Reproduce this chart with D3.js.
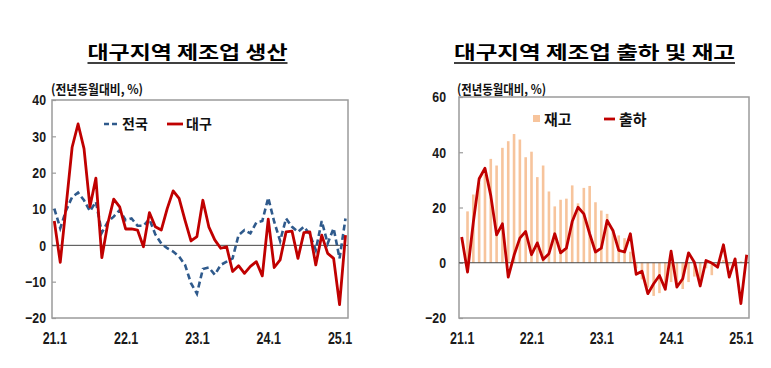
<!DOCTYPE html>
<html><head><meta charset="utf-8">
<script src="https://cdn.jsdelivr.net/npm/d3@7"></script>
<style>body{margin:0;background:#fff}svg{display:block}</style>
</head><body><svg id="c" width="771" height="368"></svg>
<script>
// ---- data ----
const months = ["21.1","21.2","21.3","21.4","21.5","21.6","21.7","21.8","21.9","21.10","21.11","21.12",
"22.1","22.2","22.3","22.4","22.5","22.6","22.7","22.8","22.9","22.10","22.11","22.12",
"23.1","23.2","23.3","23.4","23.5","23.6","23.7","23.8","23.9","23.10","23.11","23.12",
"24.1","24.2","24.3","24.4","24.5","24.6","24.7","24.8","24.9","24.10","24.11","24.12",
"25.1","25.2"];
const xTickLabels = ["21.1","22.1","23.1","24.1","25.1"];
const leftYTicks = [-20,-10,0,10,20,30,40];
const rightYTicks = [-20,0,20,40,60];

const nationalProd = [10.1,4.7,9.7,13.3,14.5,12.4,9.4,12,3.5,6.5,7.9,9.7,6.9,7.4,5.4,5.4,7.2,3,0.5,-0.8,-1.7,-3.1,-5.4,-10.4,-13.3,-6.5,-6.1,-8.1,-5.4,-4.5,-3.6,2.8,4.2,3.3,6.3,6.7,13.1,6.5,1.2,7.4,5.1,3.7,5.1,3,-1.3,6.7,0.5,4.7,-3.6,7.4];
const daeguProd = [6.7,-4.7,11,27,33.4,26.6,10.6,18.5,-3.4,6,12.7,10.6,4.5,4.5,4.2,-0.4,9,5.1,4.2,10.1,15,12.9,6.9,1.2,2.4,12.4,5.1,1.5,-0.8,-0.4,-7.2,-5.6,-7.7,-5.8,-4.5,-8.4,7.2,-6.1,-4,3.7,3.9,-3.6,3.5,3.7,-5.4,2.8,-2.2,-3.6,-16.3,2.8];
const shipment = [9.3,-3.4,14.7,30.4,34.2,24.3,10.1,14.1,-5.2,2.7,8.9,11.3,2.9,7.2,1.2,3.3,10.5,3.6,5.3,14.9,20.1,17.7,10.5,3.9,5.3,15.3,11.7,4.5,3.9,10.5,-4.2,-3.1,-11.2,-7.6,-4.6,-9.6,4.2,-8.8,-5.8,3.6,0.2,-8.4,0.8,-0.1,-1.6,6.5,-5.2,1.4,-14.8,2.9];
const inventory = [null,18.6,24.7,29,32,37.6,35.2,41.6,44.0,46.6,44.6,38.2,40.2,31.0,35.2,25.8,20.4,22.8,23.2,28,21.5,27.1,27.8,21.9,18.9,17.7,12,9.9,8.9,4,-2,-6,-9,-12,-11,-10,-7,-9,-9.5,-7,-5,-6,-2,-4.5,-2,1,-1,1.5,0.5,null];

const leftTitle = "대구지역 제조업 생산";
const rightTitle = "대구지역 제조업 출하 및 재고";
const unitLabel = "(전년동월대비, %)";
const legendLeft = ["전국","대구"];
const legendRight = ["재고","출하"];

// ---- styles ----
const KR = "'Noto Sans CJK KR','Noto Sans',sans-serif";
const NUM = "'Liberation Sans Narrow','Arial Narrow','Liberation Sans',Arial,sans-serif";
const RED = "#C00000", BLUE = "#2F5A8C", BAR = "#F7C49C", FRAME = "#9b9b9b";

const svg = d3.select("#c");

function narrow(sel, f){
  sel.each(function(){
    const w = this.getComputedTextLength();
    d3.select(this).attr("textLength", w*f).attr("lengthAdjust","spacingAndGlyphs");
  });
}

function panel(o){
  const g = svg.append("g");
  g.append("text").attr("x",o.titleX).attr("y",59).attr("text-anchor","middle")
    .attr("font-family",KR).attr("font-weight",700).attr("font-size",18)
    .attr("textLength",o.titleW).attr("lengthAdjust","spacingAndGlyphs").attr("fill","#000").text(o.title);
  g.append("line").attr("x1",o.titleX-o.titleW/2).attr("x2",o.titleX+o.titleW/2)
    .attr("y1",63).attr("y2",63).attr("stroke","#000").attr("stroke-width",1.6);
  g.append("text").attr("x",o.unitX).attr("y",94).attr("font-family",KR).attr("font-weight",700)
    .attr("font-size",13).attr("fill","#111").attr("textLength",o.unitW).attr("lengthAdjust","spacingAndGlyphs").text(unitLabel);
  return g;
}

// ================= LEFT =================
const L = {x0:52, x1:348, y0:100, y1:318};
const xL = d3.scalePoint().domain(months).range([54.3, 345.5]);
const yL = d3.scaleLinear().domain([-20,40]).range([L.y1, L.y0]);
const gl = panel({titleX:187.5,titleW:200,title:leftTitle,unitX:51,unitW:92});

gl.append("rect").attr("x",L.x0).attr("y",L.y0).attr("width",L.x1-L.x0).attr("height",L.y1-L.y0)
  .attr("fill","none").attr("stroke",FRAME).attr("stroke-width",1.5);
gl.append("g").attr("transform",`translate(${L.x0},0)`)
  .call(d3.axisRight(yL).tickValues(leftYTicks).tickSize(4).tickFormat(""))
  .call(a=>a.select(".domain").remove()).selectAll("line").attr("stroke",FRAME).attr("stroke-width",1.2);
gl.append("g").attr("transform",`translate(${L.x0},0)`)
  .call(d3.axisLeft(yL).tickValues(leftYTicks).tickSize(0).tickPadding(6))
  .call(a=>a.select(".domain").remove())
  .selectAll("text").attr("font-family",NUM).attr("font-weight",700).attr("font-size",15).attr("fill","#1a1a1a")
  .call(narrow,0.82);
gl.append("g").attr("transform",`translate(0,${L.y1})`)
  .call(d3.axisBottom(xL).tickValues(xTickLabels).tickSize(0).tickPadding(15))
  .call(a=>a.select(".domain").remove())
  .selectAll("text").attr("font-family",NUM).attr("font-weight",700).attr("font-size",16).attr("fill","#1a1a1a")
  .call(narrow,0.78);
gl.append("line").attr("x1",L.x0).attr("x2",L.x1).attr("y1",yL(0)).attr("y2",yL(0)).attr("stroke","#444").attr("stroke-width",1);
const lineL = d3.line().x((d,i)=>xL(months[i])).y(d=>yL(d));
gl.append("path").datum(nationalProd).attr("d",lineL).attr("fill","none").attr("stroke",BLUE)
  .attr("stroke-width",2.6).attr("stroke-dasharray","6,3.5");
gl.append("path").datum(daeguProd).attr("d",lineL).attr("fill","none").attr("stroke",RED)
  .attr("stroke-width",2.8).attr("stroke-linejoin","round");
gl.append("line").attr("x1",104).attr("x2",118).attr("y1",124).attr("y2",124).attr("stroke",BLUE).attr("stroke-width",2.6).attr("stroke-dasharray","5,3");
gl.append("text").attr("x",122).attr("y",129).attr("font-family",KR).attr("font-weight",700).attr("font-size",14).attr("fill","#111").text(legendLeft[0]);
gl.append("line").attr("x1",167).attr("x2",183).attr("y1",124).attr("y2",124).attr("stroke",RED).attr("stroke-width",2.8);
gl.append("text").attr("x",186).attr("y",129).attr("font-family",KR).attr("font-weight",700).attr("font-size",14).attr("fill","#111").text(legendLeft[1]);

// ================= RIGHT =================
const R = {x0:459, x1:749, y0:97, y1:318};
const xR = d3.scalePoint().domain(months).range([461.7, 746.7]);
const yR = d3.scaleLinear().domain([-20,60]).range([R.y1, R.y0]);
const gr = panel({titleX:594.5,titleW:281,title:rightTitle,unitX:457,unitW:89});

gr.append("rect").attr("x",R.x0).attr("y",R.y0).attr("width",R.x1-R.x0).attr("height",R.y1-R.y0)
  .attr("fill","none").attr("stroke",FRAME).attr("stroke-width",1.5);
gr.append("g").attr("transform",`translate(${R.x0},0)`)
  .call(d3.axisRight(yR).tickValues(rightYTicks).tickSize(4).tickFormat(""))
  .call(a=>a.select(".domain").remove()).selectAll("line").attr("stroke",FRAME).attr("stroke-width",1.2);
gr.append("g").attr("transform",`translate(${R.x0},0)`)
  .call(d3.axisLeft(yR).tickValues(rightYTicks).tickSize(0).tickPadding(13))
  .call(a=>a.select(".domain").remove())
  .selectAll("text").attr("font-family",NUM).attr("font-weight",700).attr("font-size",15).attr("fill","#1a1a1a")
  .call(narrow,0.82);
gr.append("g").attr("transform",`translate(0,${R.y1})`)
  .call(d3.axisBottom(xR).tickValues(xTickLabels).tickSize(0).tickPadding(15))
  .call(a=>a.select(".domain").remove())
  .selectAll("text").attr("font-family",NUM).attr("font-weight",700).attr("font-size",16).attr("fill","#1a1a1a")
  .call(narrow,0.78);
const bw = 2.6;
gr.append("g").selectAll("rect").data(inventory.map((v,i)=>({v,m:months[i]})).filter(d=>d.v!==null))
  .join("rect").attr("x",d=>xR(d.m)-bw/2).attr("width",bw)
  .attr("y",d=>yR(Math.max(0,d.v))).attr("height",d=>Math.abs(yR(d.v)-yR(0))).attr("fill",BAR);
gr.append("line").attr("x1",R.x0).attr("x2",R.x1).attr("y1",yR(0)).attr("y2",yR(0)).attr("stroke","#444").attr("stroke-width",1);
const lineR = d3.line().x((d,i)=>xR(months[i])).y(d=>yR(d));
gr.append("path").datum(shipment).attr("d",lineR).attr("fill","none").attr("stroke",RED)
  .attr("stroke-width",2.8).attr("stroke-linejoin","round");
gr.append("rect").attr("x",533).attr("y",115).attr("width",7).attr("height",7).attr("fill",BAR);
gr.append("text").attr("x",544).attr("y",125).attr("font-family",KR).attr("font-weight",700).attr("font-size",15).attr("fill","#111").text(legendRight[0]);
gr.append("line").attr("x1",604).attr("x2",615).attr("y1",119).attr("y2",119).attr("stroke",RED).attr("stroke-width",2.8);
gr.append("text").attr("x",619).attr("y",125).attr("font-family",KR).attr("font-weight",700).attr("font-size",15).attr("fill","#111").text(legendRight[1]);
</script></body></html>
